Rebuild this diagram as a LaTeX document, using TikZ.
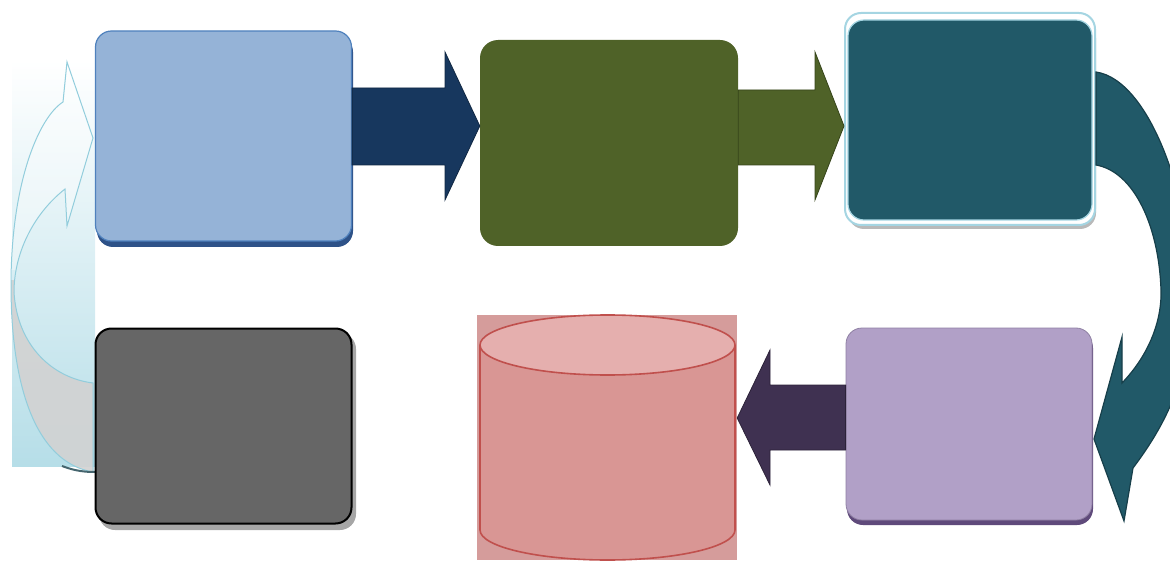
\documentclass[tikz,border=0pt]{standalone}
\usetikzlibrary{calc}
\definecolor{bluefill}{HTML}{95B3D7}
\definecolor{blueedge}{HTML}{4F81BD}
\definecolor{bluedark}{HTML}{2E5288}
\definecolor{navy}{HTML}{17375E}
\definecolor{olive}{HTML}{4F6228}
\definecolor{olivedark}{HTML}{36441A}
\definecolor{teal}{HTML}{215968}
\definecolor{tealdark}{HTML}{173F4A}
\definecolor{teallight}{HTML}{A5D5E2}
\definecolor{lilac}{HTML}{B1A0C7}
\definecolor{lilacdark}{HTML}{5F4A7B}
\definecolor{plum}{HTML}{3F3151}
\definecolor{slate}{HTML}{666666}
\definecolor{rose}{HTML}{D99694}
\definecolor{roselight}{HTML}{E5AFAE}
\definecolor{rosedark}{HTML}{C0504D}
\definecolor{rosebg}{HTML}{D59C9B}
\definecolor{iceblue}{HTML}{B6DEE8}
\definecolor{iceline}{HTML}{92CDDC}
\tikzset{
  card/.style={rectangle, rounded corners=16pt, inner sep=0pt},
  blockarrow/.style={line width=0.8pt, line join=miter},
}
\begin{document}
\begin{tikzpicture}[x=1pt,y=-1pt]
\useasboundingbox (0,0) rectangle (1170,564);

% ---- return arrow on the left (translucent) ----
\shade[top color=white, bottom color=iceblue] (12,60) rectangle (95,466);
\path[save path=\loopband]
  (93,472) .. controls (35,462) and (11,385) .. (11,285)
  .. controls (11,185) and (38,118) .. (63,102)
  -- (67,62) -- (93,138) -- (67,226) -- (65,189)
  .. controls (32,215) and (14,255) .. (14,292)
  .. controls (17,345) and (52,378) .. (93,383) -- cycle;
\begin{scope}
  \clip[use path=\loopband];
  \fill[white, opacity=0.35] (0,0) rectangle (95,270);
  \fill[gray!35, opacity=0.9] (0,280) rectangle (95,480);
\end{scope}
\draw[iceline, line width=1pt, use path=\loopband];
\draw[tealdark!80, line width=2pt] (62,466) .. controls (75,471) and (85,472) .. (95,472);

% ---- boxes ----
% shadows
\fill[bluedark, rounded corners=16pt] (97,36) rectangle (353,247);
\fill[gray!70, rounded corners=16pt] (99,333) rectangle (356,530);
\fill[lilacdark, rounded corners=16pt] (847,332) rectangle (1093,525);
\fill[gray!55, rounded corners=16pt] (848,22) rectangle (1096,229);

\node[card, fill=bluefill, draw=blueedge, line width=1.2pt,
      minimum width=256pt, minimum height=210pt] (b1) at (223.5,136) {};
\node[card, fill=olive, rounded corners=18pt,
      minimum width=258pt, minimum height=206pt] (b2) at (609,143) {};
\node[card, fill=white, draw=teallight, line width=2pt,
      minimum width=250pt, minimum height=212pt] (b3frame) at (970,119) {};
\node[card, fill=teal, draw=teallight, line width=1.2pt,
      minimum width=244pt, minimum height=200pt] (b3) at (970,120) {};
\node[card, fill=lilac, draw=lilacdark!70, line width=0.8pt,
      minimum width=246pt, minimum height=192pt] (b4) at (969,424) {};
\node[card, fill=slate, draw=black, line width=2pt,
      minimum width=256pt, minimum height=195pt] (b6) at (223.5,426) {};

% ---- storage cylinder ----
\node[rectangle, fill=rosebg, minimum width=260pt, minimum height=245pt, inner sep=0pt]
  (cyl) at (607,437.5) {};
\fill[rose] (480,345) -- (480,530) arc[start angle=180, end angle=360, x radius=127.5pt, y radius=30pt]
  -- (735,345) -- cycle;
\draw[rosedark, line width=1.6pt] (480,345) -- (480,530)
  arc[start angle=180, end angle=360, x radius=127.5pt, y radius=30pt] -- (735,345);
\draw[rosedark, line width=1.6pt, fill=roselight] (607.5,345) ellipse[x radius=127.5pt, y radius=30pt];

% ---- straight block arrows ----
\draw[blockarrow, fill=navy, draw=navy!70!black]
  (b1.east |- 0,88) -- (445,88) -- (445,52) -- (b2.west |- 0,126) -- (445,200)
  -- (445,165) -- (b1.east |- 0,165) -- cycle;
\draw[blockarrow, fill=olive, draw=olivedark]
  (b2.east |- 0,90) -- (815,90) -- (815,52) -- (b3frame.west |- 0,126) -- (815,200)
  -- (815,165) -- (b2.east |- 0,165) -- cycle;
\draw[blockarrow, fill=plum, draw=plum!70!black]
  (b4.west |- 0,385) -- (770,385) -- (770,350) -- (cyl.east |- 0,418) -- (770,485)
  -- (770,450) -- (b4.west |- 0,450) -- cycle;

% ---- curved arrow on the right (runs past the page edge) ----
\draw[fill=teal, draw=tealdark, line width=1.2pt, line join=miter]
  (b3frame.east |- 0,72) .. controls (1150,80) and (1192,200) .. (1192,300)
  .. controls (1192,380) and (1160,432) .. (1133,468)
  -- (1124,521) -- (1094,439) -- (1122,337) -- (1122,383)
  .. controls (1148,356) and (1162,322) .. (1161,290)
  .. controls (1159,228) and (1135,172) .. (b3frame.east |- 0,165) -- cycle;
\end{tikzpicture}
\end{document}
